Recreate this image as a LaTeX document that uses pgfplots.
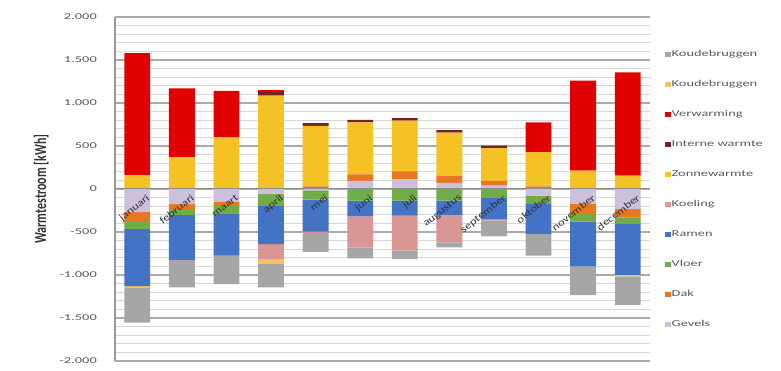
\documentclass[border=0pt]{standalone}
\usepackage{fontspec}
\setmainfont{Carlito}
\usepackage{graphicx}
\usepackage{pgfplots}
\usepackage{pgfplotstable}
\pgfplotsset{compat=1.18}

% series colours
\definecolor{cGevels}{RGB}{204,192,218}
\definecolor{cDak}{RGB}{232,119,34}
\definecolor{cVloer}{RGB}{112,173,71}
\definecolor{cRamen}{RGB}{68,114,196}
\definecolor{cKoeling}{RGB}{218,150,148}
\definecolor{cZon}{RGB}{244,194,36}
\definecolor{cIntern}{RGB}{122,30,40}
\definecolor{cVerw}{RGB}{224,0,0}
\definecolor{cKbGoud}{RGB}{250,190,100}
\definecolor{cKbGrijs}{RGB}{166,166,166}
\definecolor{cGridMaj}{RGB}{170,170,170}
\definecolor{cGridMin}{RGB}{215,215,215}

% wide text as in the spreadsheet export
\newcommand{\sx}[1]{\scalebox{1.6}[1]{#1}}
\newcommand{\mx}[1]{\scalebox{1.25}[1]{#1}}

% heat gains per month [kWh]
\pgfplotstableread{
x gev dak zon int verw
0 0 0 160 0 1420
1 0 0 370 0 800
2 0 0 600 0 540
3 0 0 1085 40 25
4 0 30 705 30 0
5 95 75 605 30 0
6 115 90 590 30 0
7 70 85 500 30 0
8 40 55 380 30 0
9 0 30 400 0 345
10 0 0 215 0 1045
11 0 0 155 0 1200
}\winst

% heat losses per month [kWh]
\pgfplotstableread{
x gev dak vloer ramen koel kbgoud kbgrijs
0 -270 -100 -95 -665 0 -15 -410
1 -175 -60 -65 -525 0 0 -320
2 -150 -45 -95 -485 0 0 -330
3 -60 0 -135 -445 -175 -55 -275
4 -15 0 -110 -370 -15 0 -220
5 0 0 -136 -182 -360 0 -128
6 0 0 -136 -174 -407 0 -97
7 0 0 -136 -166 -318 0 -58
8 0 0 -97 -252 -20 0 -181
9 -78 0 -96 -349 0 0 -252
10 -174 -117 -89 -519 0 0 -334
11 -233 -96 -78 -593 0 -15 -334
}\verlies

\pgfplotsset{
  base/.style={
    at={(115pt,10pt)}, anchor=south west,
    scale only axis, width=535pt, height=344pt,
    xmin=-0.5, xmax=11.5, ymin=-2000, ymax=2000,
  },
  sq/.style={legend image code/.code={\fill[##1] (0pt,-2.6pt) rectangle (5.5pt,2.6pt);}},
}

\begin{document}
\begin{tikzpicture}
\path[use as bounding box] (0pt,0pt) rectangle (781pt,371pt);

% gridlines every 100 kWh across the plot area (344pt for 4000 kWh), as thin filled strips
\foreach \k in {1,...,39} {
  \pgfmathsetmacro{\yy}{10+\k*8.6}
  \fill[cGridMin] (115pt,\yy pt-0.5pt) rectangle (650pt,\yy pt+0.5pt);
}
\foreach \k in {0,5,...,40} {
  \pgfmathsetmacro{\yy}{10+\k*8.6}
  \fill[cGridMaj] (115pt,\yy pt-0.6pt) rectangle (650pt,\yy pt+0.6pt);
}

% value axis and its labels
\begin{axis}[base,
  axis line style={draw=none},
  tick style={draw=none},
  xtick=\empty,
  ytick={-2000,-1500,...,2000},
  ytick pos=left,
  yticklabel style={font=\fontsize{9}{10}\selectfont, text=black!65, anchor=east, inner sep=0pt, xshift=-18pt},
  yticklabel={\sx{\pgfmathprintnumber{\tick}}},
  /pgf/number format/1000 sep={.},
  /pgf/number format/assume math mode=true,
  ylabel={\scalebox{1}[1.4]{Warmtestroom [kWh]}},
  ylabel style={at={(axis description cs:-0.138,0.5)}, anchor=center, font=\bfseries\fontsize{12}{14}\selectfont, text=black!80},
]
\end{axis}

% gains stacked upwards
\begin{axis}[base, ybar stacked, bar width=0.58, hide axis]
\addplot[fill=cGevels, draw=none] table[x=x, y=gev]{\winst};
\addplot[fill=cDak, draw=none] table[x=x, y=dak]{\winst};
\addplot[fill=cZon, draw=none] table[x=x, y=zon]{\winst};
\addplot[fill=cIntern, draw=none] table[x=x, y=int]{\winst};
\addplot[fill=cVerw, draw=none] table[x=x, y=verw]{\winst};
\end{axis}

% losses stacked downwards, month labels and legend
\begin{axis}[base, ybar stacked, bar width=0.58, axis on top,
  axis x line=middle, axis y line=left,
  x axis line style={-, draw=black!45, line width=1pt},
  y axis line style={-, draw=black!40, line width=1.2pt},
  xtick={0,...,11},
  xticklabels={\mx{januari},\mx{februari},\mx{maart},\mx{april},\mx{mei},\mx{juni},\mx{juli},\mx{augustus},\mx{september},\mx{oktober},\mx{november},\mx{december}},
  major tick length=0pt,
  xticklabel style={rotate=38, anchor=north east, inner sep=0pt,
    font=\fontsize{10}{11}\selectfont, text=black!80, xshift=4pt, yshift=-9pt},
  ytick=\empty,
  legend style={at={(1.028,0.907)}, anchor=north west, draw=none, fill=none, inner sep=0pt,
    font=\fontsize{9}{10}\selectfont, text=black!65, row sep=20pt,
    nodes={inner sep=1pt, text height=6pt, text depth=2pt}},
  legend cell align=left, reverse legend,
]
\addplot[fill=cGevels, draw=none, sq] table[x=x, y=gev]{\verlies};
\addlegendentry{\sx{Gevels}}
\addplot[fill=cDak, draw=none, sq] table[x=x, y=dak]{\verlies};
\addlegendentry{\sx{Dak}}
\addplot[fill=cVloer, draw=none, sq] table[x=x, y=vloer]{\verlies};
\addlegendentry{\sx{Vloer}}
\addplot[fill=cRamen, draw=none, sq] table[x=x, y=ramen]{\verlies};
\addlegendentry{\sx{Ramen}}
\addplot[fill=cKoeling, draw=none, sq] table[x=x, y=koel]{\verlies};
\addlegendentry{\sx{Koeling}}
\addlegendimage{fill=cZon, draw=none, sq}
\addlegendentry{\sx{Zonnewarmte}}
\addlegendimage{fill=cIntern, draw=none, sq}
\addlegendentry{\sx{Interne warmte}}
\addlegendimage{fill=cVerw, draw=none, sq}
\addlegendentry{\sx{Verwarming}}
\addplot[fill=cKbGoud, draw=none, sq] table[x=x, y=kbgoud]{\verlies};
\addlegendentry{\sx{Koudebruggen}}
\addplot[fill=cKbGrijs, draw=none, sq] table[x=x, y=kbgrijs]{\verlies};
\addlegendentry{\sx{Koudebruggen}}
\end{axis}
\end{tikzpicture}
\end{document}
